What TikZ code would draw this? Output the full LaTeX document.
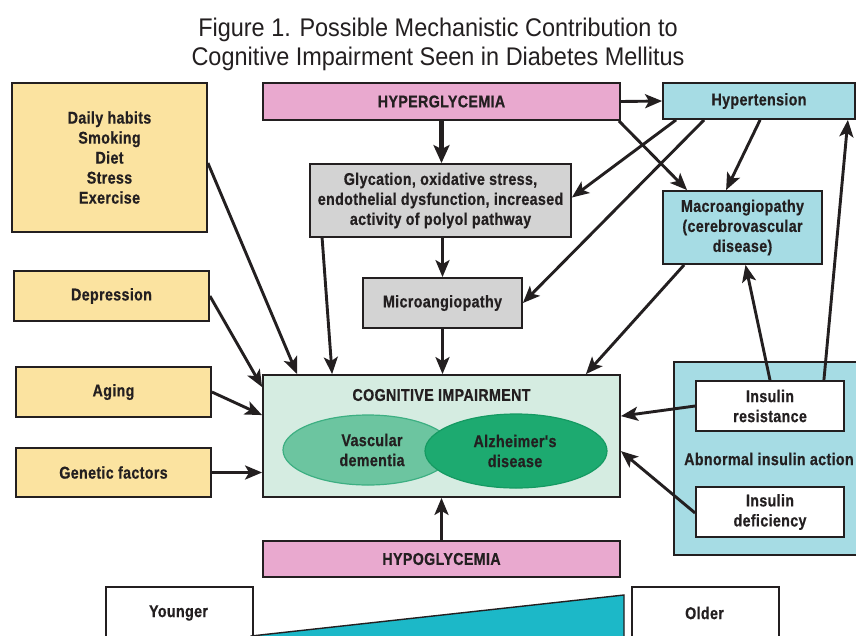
\documentclass[tikz,border=0pt]{standalone}
\usepackage{fontspec}
\setmainfont{Liberation Sans}
\newfontfamily\condfont{Liberation Sans}[FakeStretch=0.84,LetterSpace=2,BoldFeatures={FakeBold=0.6}]
\newfontfamily\ttlfont{Liberation Sans}[FakeStretch=0.92]
\usetikzlibrary{arrows.meta,shapes.geometric,calc}
\definecolor{ink}{HTML}{231F20}
\definecolor{ylw}{HTML}{FBE3A0}
\definecolor{pnk}{HTML}{E9A9CF}
\definecolor{lblue}{HTML}{A6DCE4}
\definecolor{gry}{HTML}{D3D3D3}
\definecolor{mint}{HTML}{D5ECE1}
\definecolor{vasc}{HTML}{6CC5A0}
\definecolor{vascb}{HTML}{3DAF82}
\definecolor{alz}{HTML}{1DAA70}
\definecolor{alzb}{HTML}{159A62}
\definecolor{tri}{HTML}{1CB8C8}
\newcommand\bxfont{\condfont\bfseries\fontsize{17}{20}\selectfont}
\begin{document}
\begin{tikzpicture}[x=1pt,y=-1pt,
  box/.style={draw=ink, line width=1.8pt, rectangle, inner sep=0pt, align=center, text=ink, font=\bxfont},
  lbl/.style={inner sep=0pt, align=center, text=ink, font=\bxfont},
  arr/.style={draw=ink, line width=2.9pt, -{Stealth[length=17pt,width=14pt,inset=4pt]}},
  bigarr/.style={draw=ink, line width=4.8pt, -{Stealth[length=18pt,width=16pt,inset=4pt]}}
]
\useasboundingbox (0,0) rectangle (856,635);
\clip (0,0) rectangle (856,635);
\fill[white] (0,0) rectangle (856,635);

% title
\node[anchor=base, inner sep=0pt, text=ink, font=\ttlfont\fontsize{25.5}{29}\selectfont] (title1) at (438,36) {Figure 1. Possible Mechanistic Contribution to};
\node[anchor=base, inner sep=0pt, text=ink, font=\ttlfont\fontsize{25.5}{29}\selectfont] (title2) at (438,65) {Cognitive Impairment Seen in Diabetes Mellitus};

% left factors
\node[box, fill=ylw, minimum width=195pt, minimum height=149pt] (daily) at (109.5,157.5) {Daily habits\\Smoking\\Diet\\Stress\\Exercise};
\node[box, fill=ylw, minimum width=195pt, minimum height=50pt] (depr) at (111.5,296) {Depression};
\node[box, fill=ylw, minimum width=195pt, minimum height=50pt] (aging) at (113.5,392) {Aging};
\node[box, fill=ylw, minimum width=195pt, minimum height=49pt] (genetic) at (113.5,472.5) {Genetic factors};

% top row
\node[box, fill=pnk, minimum width=357pt, minimum height=37pt] (hyper) at (441.5,101.5) {HYPERGLYCEMIA};
\node[box, fill=lblue, minimum width=192pt, minimum height=36pt] (hypert) at (759,101) {Hypertension};

% middle
\node[box, fill=gry, minimum width=261pt, minimum height=73pt] (glyc) at (440.5,200.5) {Glycation, oxidative stress,\\endothelial dysfunction, increased\\activity of polyol pathway};
\node[box, fill=gry, minimum width=159pt, minimum height=50pt] (micro) at (442.5,303) {Microangiopathy};
\node[box, fill=lblue, minimum width=159pt, minimum height=73pt] (macro) at (742.5,227.5) {Macroangiopathy\\(cerebrovascular\\disease)};

% cognitive impairment
\node[box, fill=mint, minimum width=357pt, minimum height=122pt] (cog) at (441.5,436) {};
\node[lbl] (cogtitle) at (441.5,395) {COGNITIVE IMPAIRMENT};
\node[ellipse, draw=vascb, line width=1.2pt, fill=vasc, minimum width=170pt, minimum height=70pt, inner sep=0pt] (vascell) at (368,450) {};
\node[ellipse, draw=alzb, line width=1.2pt, fill=alz, minimum width=182pt, minimum height=74pt, inner sep=0pt] (alzell) at (516,451) {};
\node[lbl] (vasctext) at (372,450) {Vascular\\dementia};
\node[lbl] (alztext) at (515,451) {Alzheimer's\\disease};

% abnormal insulin action
\node[box, fill=lblue, minimum width=190pt, minimum height=193pt, anchor=north west] (abn) at (673,361) {};
\node[lbl, anchor=west] (abntext) at (684,459) {Abnormal insulin action};
\node[box, fill=white, minimum width=148pt, minimum height=50pt] (insres) at (770,406) {Insulin\\resistance};
\node[box, fill=white, minimum width=148pt, minimum height=50pt] (insdef) at (770,512) {Insulin\\deficiency};

% hypoglycemia
\node[box, fill=pnk, minimum width=357pt, minimum height=36pt] (hypo) at (441.5,559) {HYPOGLYCEMIA};

% age scale
\node[box, fill=white, minimum width=147pt, minimum height=70pt, anchor=north west] (younger) at (105,586) {};
\node[lbl] (youngtext) at (178.5,613) {Younger};
\node[box, fill=white, minimum width=147pt, minimum height=70pt, anchor=north west] (older) at (631,586) {};
\node[lbl] (oldtext) at (704.5,613) {Older};
\draw[draw=ink, line width=1.4pt, fill=tri] (251,636) -- (624,595) -- (624,650) -- (251,650) -- cycle;

% connectors
\draw[arr] (hyper.east) -- (hypert.west);
\draw[bigarr] (hyper.south) -- (hyper.south |- glyc.north);
\draw[arr] ([xshift=-2pt]hyper.south east) -- ([xshift=25pt]macro.north west);
\draw[arr] ([xshift=14pt]hypert.south west) -- ([yshift=3pt]glyc.east);
\draw[arr] ([xshift=42pt]hypert.south west) -- (micro.east);
\draw[arr] ([xshift=98pt]hypert.south west) -- ([xshift=64pt]macro.north west);
\draw[arr] (micro.north |- glyc.south) -- (micro.north);
\draw[arr] ([xshift=13pt]glyc.south west) -- ([xshift=70pt]cog.north west);
\draw[arr] (micro.south) -- (micro.south |- cog.north);
\draw[arr] ([xshift=22pt]macro.south west) -- ([xshift=-35pt]cog.north east);
\draw[arr] ([yshift=-5.5pt]daily.east) -- ([xshift=35pt]cog.north west);
\draw[arr] (depr.east) -- ([yshift=-13pt]cog.north west);
\draw[arr] (aging.east) -- ([yshift=-41pt]cog.north west);
\draw[arr] (genetic.east) -- (genetic.east -| cog.west);
\draw[arr] (insres.west) -- ([yshift=-42pt]cog.north east);
\draw[arr] ([yshift=-1pt]insdef.west) -- ([yshift=-77pt]cog.north east);
\draw[arr] (insres.north) -- ([xshift=3pt]macro.south);
\draw[arr] ([xshift=-21pt]insres.north east) -- ([xshift=-8pt]hypert.south east);
\draw[arr] (hypo.north) -- (cog.south);
\end{tikzpicture}
\end{document}
